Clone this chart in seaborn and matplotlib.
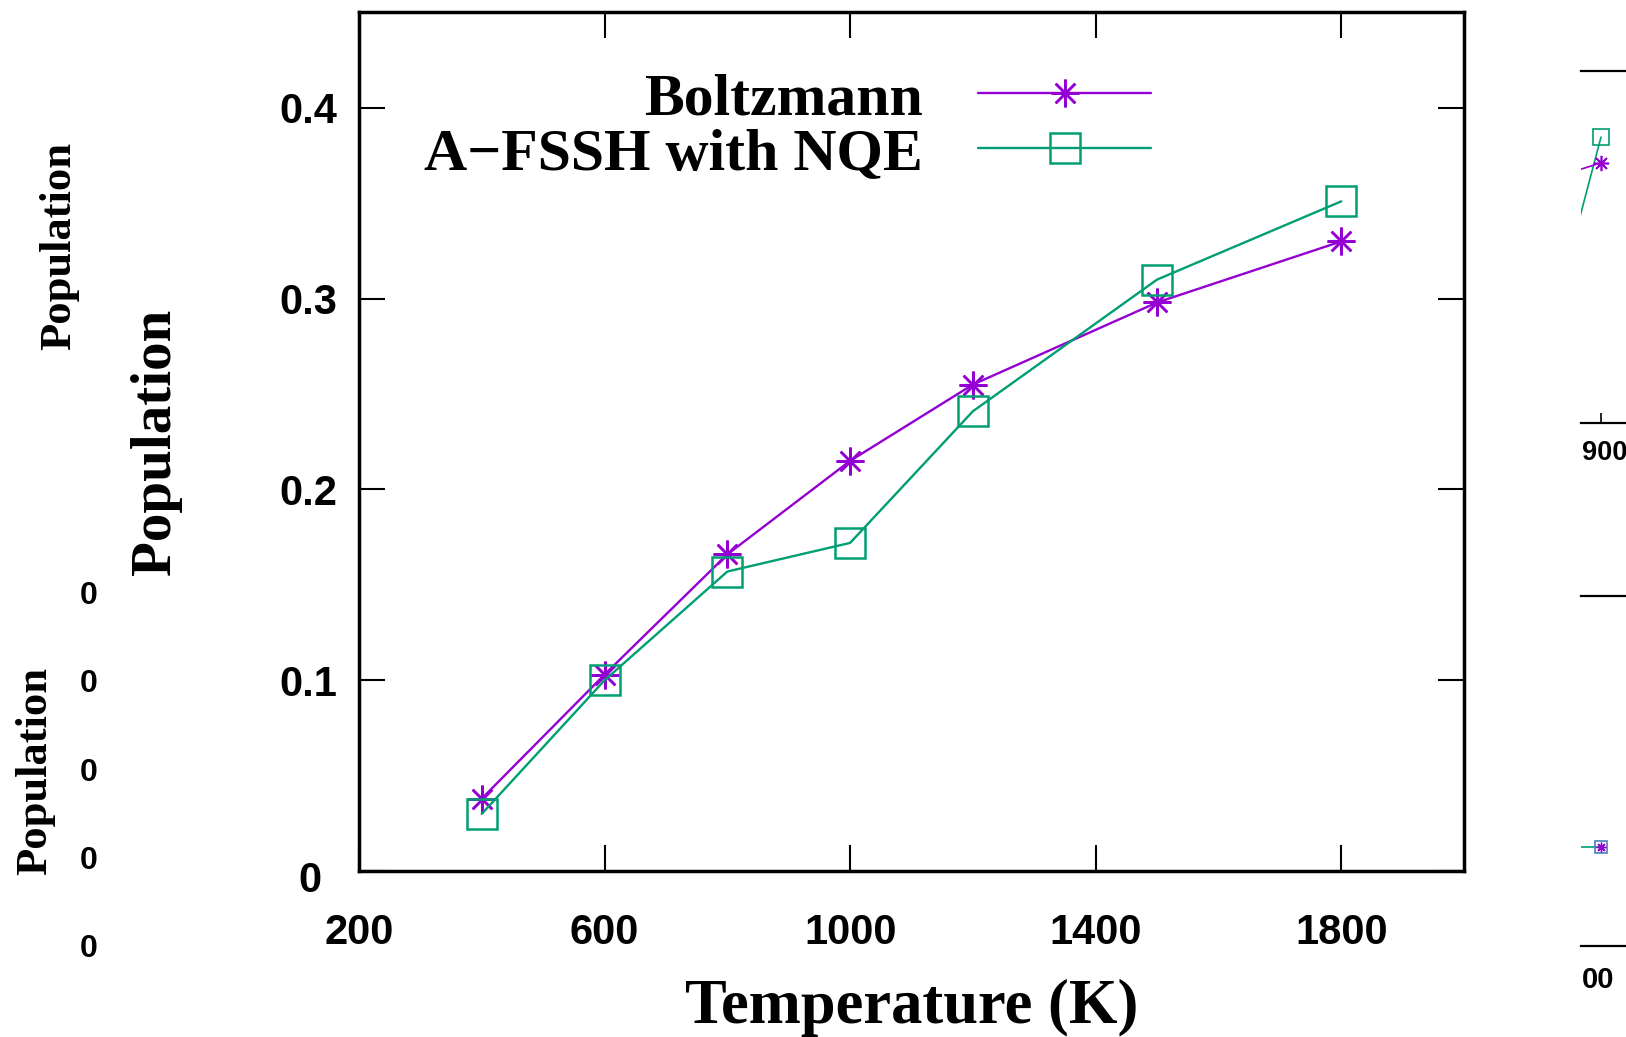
import matplotlib
matplotlib.use("Agg")
import matplotlib.pyplot as plt
import matplotlib.transforms as mtransforms
import seaborn as sns
import pandas as pd

# ---------------- data ----------------
temperatures = [400, 600, 800, 1000, 1200, 1500, 1800]
boltzmann = [0.038, 0.103, 0.166, 0.215, 0.255, 0.298, 0.330]
afssh_nqe = [0.030, 0.100, 0.157, 0.172, 0.241, 0.310, 0.351]
x_ticks = [200, 600, 1000, 1400, 1800]
y_ticks = [0, 0.1, 0.2, 0.3, 0.4]
y_tick_labels = ["0", "0.1", "0.2", "0.3", "0.4"]
series_names = ["Boltzmann", "A\u2212FSSH with NQE"]

# fragments of neighbouring panels (cropped at the figure edges)
frag_top_x = [850, 900]
frag_top_boltz = [0.693, 0.738]
frag_top_afssh = [0.274, 0.811]
frag_bot_x = [850, 900]
frag_bot_boltz = [0.283, 0.283]
frag_bot_afssh = [0.283, 0.283]

PURPLE = "#9400d3"
TEAL = "#009e73"

sns.set_theme(style="ticks")
plt.rcParams["font.family"] = ["Liberation Sans", "DejaVu Sans"]
plt.rcParams["text.color"] = "black"
plt.rcParams["axes.labelcolor"] = "black"
plt.rcParams["xtick.color"] = "black"
plt.rcParams["ytick.color"] = "black"

fig = plt.figure(figsize=(16.26, 10.37), dpi=100)
ax = fig.add_axes([0.2208, 0.160, 0.6796, 0.828])

df = pd.DataFrame({"T": temperatures, "B": boltzmann, "A": afssh_nqe})
sns.lineplot(data=df, x="T", y="B", ax=ax, color=PURPLE, linewidth=1.7,
             marker=(8, 2, 0), markersize=20, markeredgewidth=1.8,
             markeredgecolor=PURPLE, label=series_names[0], sort=False)
sns.lineplot(data=df, x="T", y="A", ax=ax, color=TEAL, linewidth=1.7,
             marker="s", markersize=22, markeredgewidth=1.8,
             markerfacecolor="none", markeredgecolor=TEAL,
             label=series_names[1], sort=False)

ax.set_xlim(200, 2000)
ax.set_ylim(0, 0.45)
ax.set_xticks(x_ticks)
ax.set_yticks(y_ticks)
ax.set_yticklabels(y_tick_labels)
ax.tick_params(direction="in", length=19, width=1.5, top=True, right=True,
               labelsize=30, color="black", labelcolor="black")
ax.tick_params(axis="x", pad=30)
ax.tick_params(axis="y", pad=16)
for lab in ax.get_xticklabels() + ax.get_yticklabels():
    lab.set_fontweight("bold")
# the "0" label of the y axis sits a little left and lower in the reference
zero_lab = ax.get_yticklabels()[0]
zero_lab.set_transform(zero_lab.get_transform() +
                       mtransforms.ScaledTranslation(-15 / 100, -5 / 100,
                                                     fig.dpi_scale_trans))
for s in ax.spines.values():
    s.set_linewidth(2.5)
    s.set_color("black")

serif = ["Liberation Serif", "DejaVu Serif"]
ax.set_xlabel("Temperature (K)", fontsize=45, family=serif, fontweight="bold")
ax.set_ylabel("Population", fontsize=41, family=serif, fontweight="bold")
ax.xaxis.set_label_coords(0.5, -0.126)
ax.yaxis.set_label_coords(-0.160, 0.5)

leg = ax.legend(loc="upper right", bbox_to_anchor=(0.717, 0.930),
                frameon=False, markerfirst=False,
                prop={"family": serif, "weight": "bold", "size": 43},
                handlelength=2.9, handletextpad=0.92, labelspacing=0.0,
                borderpad=0, borderaxespad=0)

# ---------- fragments of neighbouring panels ----------
W, H = 1626.0, 1037.0
fig.text(39 / W, 1 - 246 / H, "Population", rotation=90, fontsize=32,
         family=serif, fontweight="bold", ha="left", va="center")
fig.text(15 / W, 1 - 771 / H, "Population", rotation=90, fontsize=32,
         family=serif, fontweight="bold", ha="left", va="center")
for yy in [596, 684, 773, 861, 949]:
    fig.text(80 / W, 1 - yy / H, "0", fontsize=23, fontweight="bold",
             ha="left", va="center")

ax2 = fig.add_axes([1581 / W, 1 - 423 / H, 100 / W, (423 - 70.5) / H])
ax2.plot(frag_top_x, frag_top_afssh, color=TEAL, lw=1.2, marker="s",
         ms=11, mfc="none", mec=TEAL, mew=1.2, markevery=[1])
ax2.plot(frag_top_x, frag_top_boltz, color=PURPLE, lw=1.2, marker=(8, 2, 0),
         ms=11, mec=PURPLE, mew=1.2, markevery=[1])
ax2.set_xlim(880, 980)
ax2.set_ylim(0, 1)

ax3 = fig.add_axes([1581 / W, 1 - 946 / H, 100 / W, (946 - 596) / H])
ax3.plot(frag_bot_x, frag_bot_afssh, color=TEAL, lw=1.2, marker="s",
         ms=8, mfc="none", mec="#4a7fc0", mew=1.2, markevery=[1])
ax3.plot(frag_bot_x, frag_bot_boltz, color=PURPLE, lw=0, marker=(8, 2, 0),
         ms=7, mec=PURPLE, mew=1.0, markevery=[1])
ax3.set_xlim(880, 980)
ax3.set_ylim(0, 1)

for a in (ax2, ax3):
    a.set_facecolor("none")
    for side in ("left", "right"):
        a.spines[side].set_visible(False)
    for side in ("top", "bottom"):
        a.spines[side].set_linewidth(1.6)
        a.spines[side].set_color("black")
    a.set_yticks([])
    a.set_xticks([900])
    a.set_xticklabels([])
    a.tick_params(axis="x", direction="in", length=7, width=1.2)
ax3.tick_params(axis="x", length=0)

fig.text(1582 / W, 1 - 453 / H, "900", fontsize=19.5, fontweight="bold",
         ha="left", va="center")
fig.text(1582 / W, 1 - 980 / H, "00", fontsize=21, fontweight="bold",
         ha="left", va="center")

fig.savefig("out.png", dpi=100, facecolor="white")
